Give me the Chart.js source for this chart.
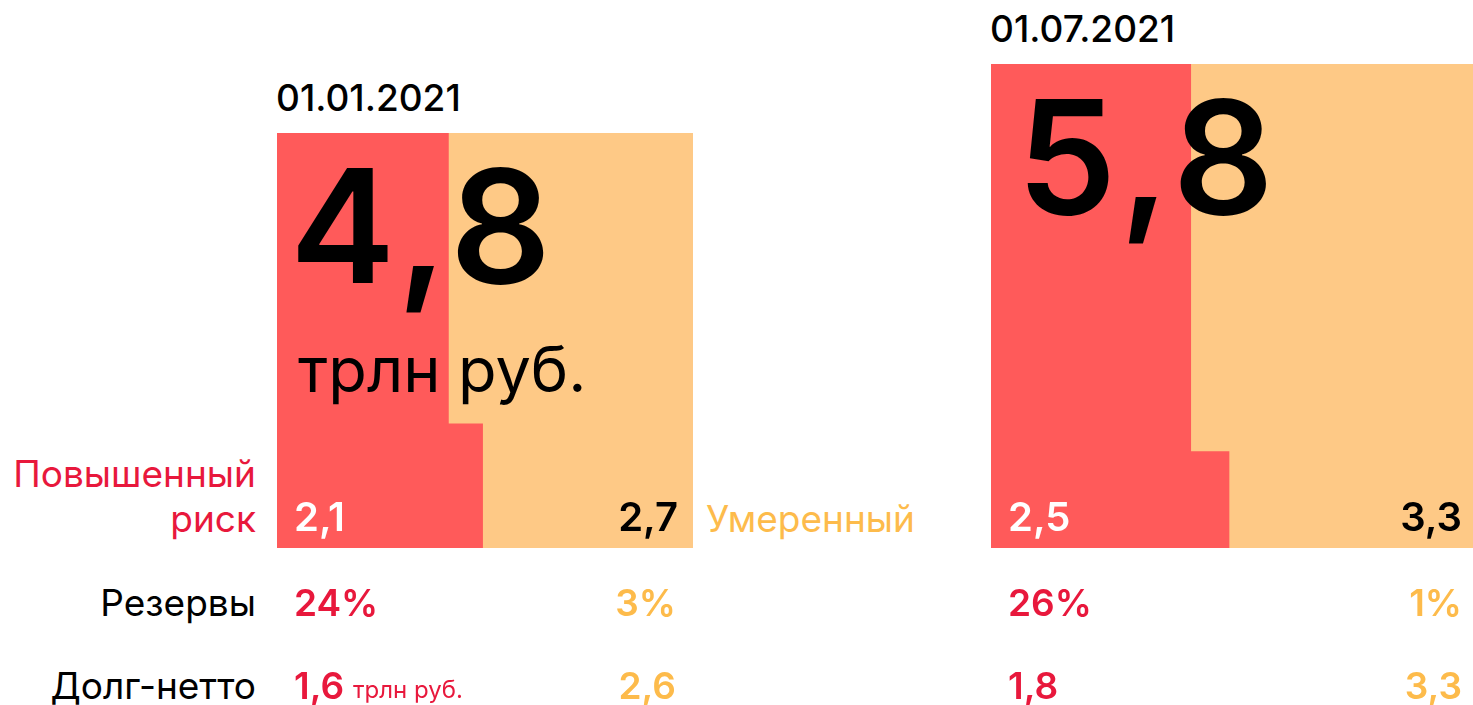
<!DOCTYPE html>
<html lang="ru">
<head>
<meta charset="utf-8">
<title>Повышенный и умеренный риск</title>
<script src="https://cdn.jsdelivr.net/npm/chart.js@4.4.1/dist/chart.umd.min.js"></script>
<style>
  html, body { margin: 0; padding: 0; background: #fff; }
  body { width: 1473px; height: 705px; position: relative; overflow: hidden; font-family: Inter, "Noto Sans", sans-serif; }
  .t { position: absolute; white-space: nowrap; line-height: 1; }
  .block { position: absolute; }
</style>
</head>
<body>
<script>
// Данные (трлн руб. и %)
const dates = ['01.01.2021', '01.07.2021'];
const highRisk = [2.1, 2.5];
const moderate = [2.7, 3.3];
const totals = [4.8, 5.8];
const reservesHigh = [24, 26];
const reservesModerate = [3, 1];
const netDebtHigh = [1.6, 1.8];
const netDebtModerate = [2.6, 3.3];
const rowLabels = ['Резервы', 'Долг-нетто'];

const RED = '#ff5a5a';
const ORANGE = '#fec986';
const RED_TEXT = '#e8183c';
const ORANGE_TEXT = '#fdbb4b';

// позиции блоков на странице
const boxes = [
    { left: 277, top: 133, width: 416, height: 415, stepH: 0.3 },
    { left: 991, top: 64, width: 482, height: 484, stepH: 0.2 }
];

const fmt = v => String(v).replace('.', ',');
const PAGE_W = 1473;

// текст по базовой линии (метрики Inter)
function txt(str, x, base, size, weight, color, align) {
    const el = document.createElement('div');
    el.className = 't';
    el.textContent = str;
    el.style.fontSize = size + 'px';
    el.style.fontWeight = weight;
    el.style.color = color;
    el.style.top = (base - 0.8635 * size) + 'px';
    if (align === 'right') el.style.right = (PAGE_W - x) + 'px';
    else el.style.left = x + 'px';
    document.body.appendChild(el);
    return el;
}

function drawBlock(i) {
    const box = boxes[i];
    const wrap = document.createElement('div');
    wrap.className = 'block';
    wrap.style.left = box.left + 'px';
    wrap.style.top = box.top + 'px';
    wrap.style.width = box.width + 'px';
    wrap.style.height = box.height + 'px';
    const canvas = document.createElement('canvas');
    wrap.appendChild(canvas);
    document.body.appendChild(wrap);

    // площадь красной зоны = доля повышенного риска
    const share = highRisk[i] / (highRisk[i] + moderate[i]);
    const lowerW = 0.495;
    const h = box.stepH;
    const upperW = (share - lowerW * h) / (1 - h);

    new Chart(canvas, {
        type: 'line',
        data: {
            datasets: [
                {
                    label: 'Повышенный риск',
                    data: [
                        { x: 0, y: 1 }, { x: upperW, y: 1 }, { x: upperW, y: h },
                        { x: lowerW, y: h }, { x: lowerW, y: 0 }
                    ],
                    fill: 'origin',
                    backgroundColor: RED,
                    borderColor: 'transparent',
                    borderWidth: 0,
                    pointRadius: 0
                },
                {
                    label: 'Умеренный',
                    data: [{ x: 0, y: 1 }, { x: 1, y: 1 }],
                    fill: 'origin',
                    backgroundColor: ORANGE,
                    borderColor: 'transparent',
                    borderWidth: 0,
                    pointRadius: 0
                }
            ]
        },
        options: {
            responsive: true,
            maintainAspectRatio: false,
            animation: false,
            events: [],
            layout: { padding: 0 },
            scales: {
                x: { type: 'linear', min: 0, max: 1, display: false },
                y: { min: 0, max: 1, display: false }
            },
            plugins: {
                legend: { display: false },
                tooltip: { enabled: false }
            }
        }
    });
}

drawBlock(0);
drawBlock(1);

// подписи слева
txt('Повышенный', 256, 487, 37, 400, RED_TEXT, 'right');
txt('риск', 256, 532, 37, 400, RED_TEXT, 'right');
txt('Умеренный', 706, 532, 37, 400, ORANGE_TEXT, 'left');
txt(rowLabels[0], 256, 616, 37, 400, '#000', 'right');
txt(rowLabels[1], 256, 699, 37, 400, '#000', 'right');

// содержимое блоков
const bigBase = [283, 214];
const bigX = [290, 1017];
boxes.forEach((box, i) => {
    const l = box.left, r = box.left + box.width;
    const padL = 17;
    txt(dates[i], l - 1, box.top - 22, 37, 500, '#000', 'left');
    const big = txt(fmt(totals[i]), bigX[i], bigBase[i], 158, 600, '#000', 'left');
    big.style.letterSpacing = '7px';
    txt(fmt(highRisk[i]), l + padL, 532, 40, 600, '#fff', 'left');
    txt(fmt(moderate[i]), r - (i === 1 ? 11 : 15), 532, 40, 600, '#000', 'right');
    txt(reservesHigh[i] + '%', l + padL, 616, 37, 600, RED_TEXT, 'left');
    txt(reservesModerate[i] + '%', r - (i === 1 ? 11 : 17), 616, 37, 600, ORANGE_TEXT, 'right');
    txt(fmt(netDebtHigh[i]), l + padL, 699, 37, 600, RED_TEXT, 'left');
    txt(fmt(netDebtModerate[i]), r - (i === 1 ? 11 : 17), 699, 37, 600, ORANGE_TEXT, 'right');
});
txt('трлн руб.', 298, 392, 63, 400, '#000', 'left');
txt('трлн руб.', 353, 699, 24, 400, RED_TEXT, 'left');
</script>
</body>
</html>
